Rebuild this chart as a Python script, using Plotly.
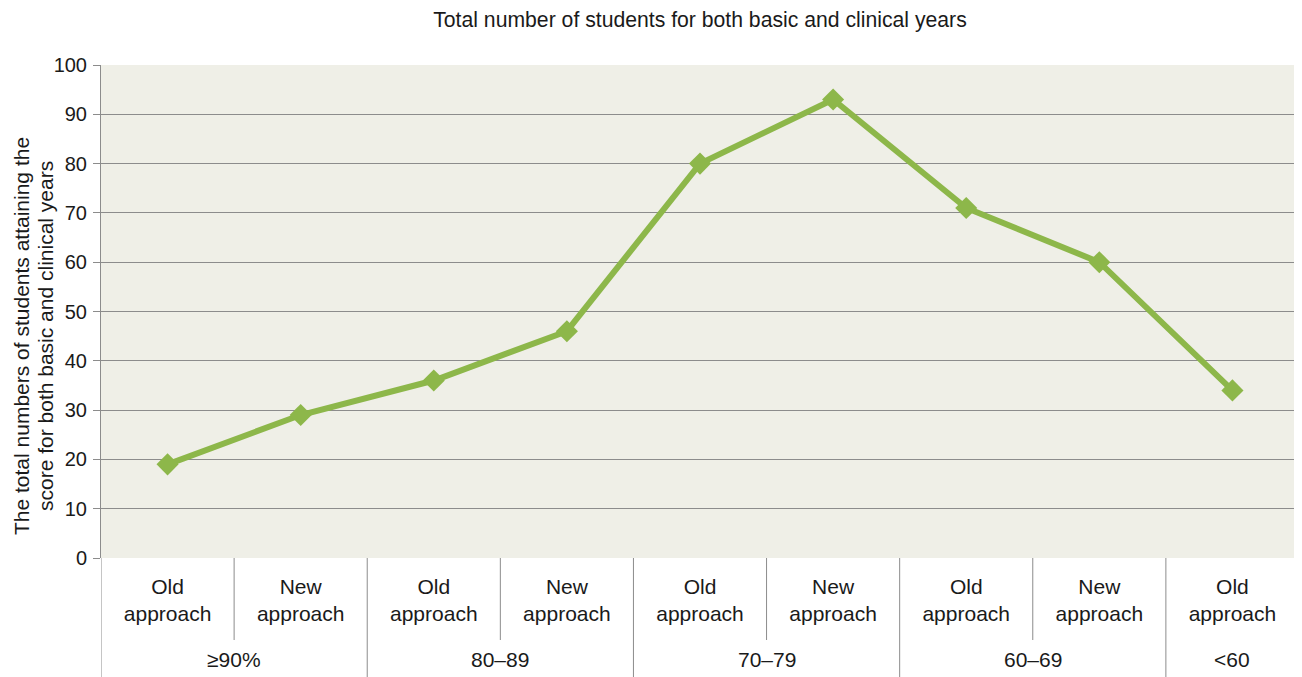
import plotly.graph_objects as go

group_labels = ["≥90%", "80–89", "70–79", "60–69", "<60"]
group_sizes = [2, 2, 2, 2, 1]
approaches = ["Old<br>approach", "New<br>approach"] * 4 + ["Old<br>approach"]
values = [19, 29, 36, 46, 80, 93, 71, 60, 34]
y_ticks = list(range(0, 101, 10))

title_text = "Total number of students for both basic and clinical years"
y_title_lines = ["The total numbers of students attaining the",
                 "score for both basic and clinical years"]

LINE = "#8db74a"
GRID = "#8c8c8c"
TXT = "#1a1a1a"
FONT = "Liberation Sans, Arial, sans-serif"

OFF = 8  # page body margin offset
PAGE_W, PAGE_H = 1302, 677
W, H = PAGE_W - OFF, PAGE_H - OFF
# desired plot box in page pixels
PL, PR, PT, PB = 101, 1299, 65, 558
L = PL - OFF
T = PT - OFF
R = W - (PR - OFF)
B = H - (PB - OFF)
ph = PB - PT

def py(pix):  # page pixel y -> paper y
    return (PB - pix) / ph

xs = list(range(len(values)))

fig = go.Figure()
fig.add_trace(go.Scatter(
    x=xs, y=values, mode="lines+markers",
    line=dict(color=LINE, width=6),
    marker=dict(symbol="diamond", size=17, color=LINE),
    showlegend=False, hoverinfo="skip",
))

shapes = []
bounds = [-0.5]
acc = -0.5
for s in group_sizes:
    acc += s
    bounds.append(acc)
for b in bounds:
    shapes.append(dict(type="line", xref="x", yref="paper", x0=b, x1=b,
                       y0=0, y1=py(PAGE_H + 2), line=dict(color=GRID, width=1)))
start = -0.5
for s in group_sizes:
    for k in range(1, s):
        xb = start + k
        shapes.append(dict(type="line", xref="x", yref="paper", x0=xb, x1=xb,
                           y0=0, y1=py(640), line=dict(color=GRID, width=1)))
    start += s

annotations = []
start = -0.5
for lab, s in zip(group_labels, group_sizes):
    annotations.append(dict(text=lab, x=start + s / 2, xref="x", y=py(659), yref="paper",
                            xanchor="center", yanchor="middle", showarrow=False,
                            font=dict(size=21, family=FONT, color=TXT)))
    start += s
for line_txt, cx in zip(y_title_lines, [22, 46]):
    annotations.append(dict(text=line_txt, textangle=-90, x=0, xref="paper", xshift=cx - PL,
                            y=py(336), yref="paper", xanchor="center", yanchor="middle",
                            showarrow=False, font=dict(size=21, family=FONT, color=TXT)))

fig.update_layout(
    width=W, height=H,
    margin=dict(l=L, r=R, t=T, b=B, autoexpand=False),
    paper_bgcolor="white", plot_bgcolor="#efefe7",
    font=dict(family=FONT, color=TXT, size=20),
    title=dict(text=title_text, x=0.5, xanchor="center", xref="paper",
               y=1 - (20 - OFF) / H, yanchor="middle",
               font=dict(size=21.2, family=FONT, color=TXT)),
    xaxis=dict(range=[-0.5, len(values) - 0.5], tickmode="array", tickvals=xs, ticktext=approaches,
               showgrid=False, zeroline=False, showline=False, ticks="", automargin=False,
               tickfont=dict(size=21, family=FONT, color=TXT), ticklabelstandoff=14),
    yaxis=dict(range=[0, 100], tickvals=y_ticks, showgrid=True, gridcolor=GRID, gridwidth=1,
               showline=True, linecolor=GRID, ticks="outside", ticklen=7, tickcolor=GRID,
               tickfont=dict(size=20, family=FONT, color=TXT), zeroline=False, automargin=False,
               ticklabelstandoff=2),
    shapes=shapes, annotations=annotations,
)

fig.write_html("out.html")
